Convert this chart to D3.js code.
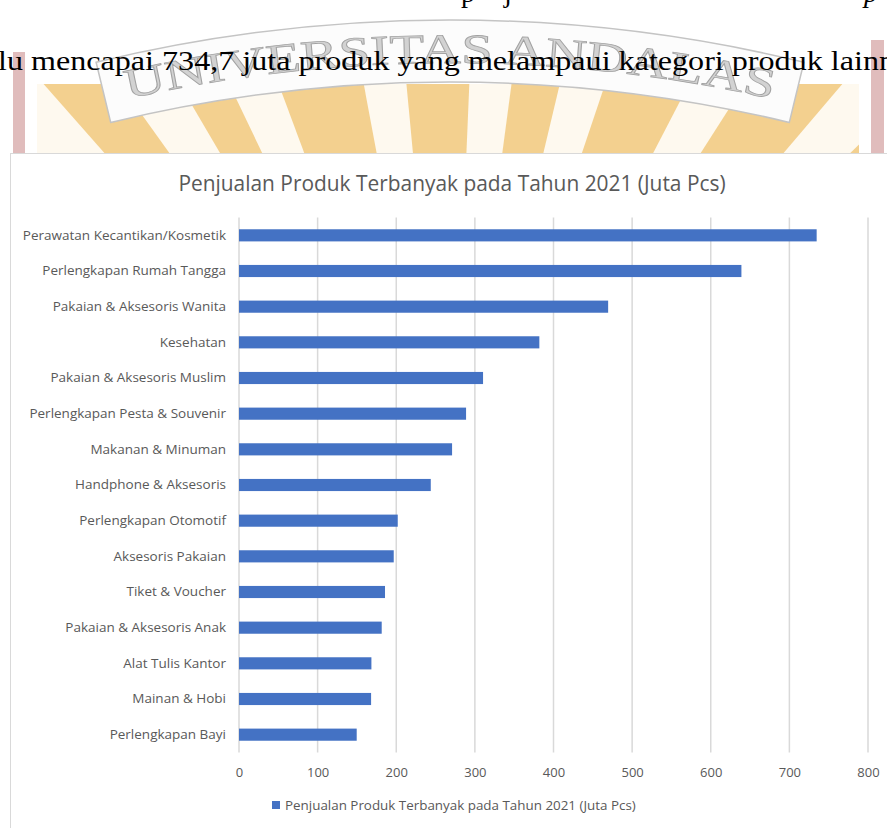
<!DOCTYPE html>
<html>
<head>
<meta charset="utf-8">
<script src="https://cdn.jsdelivr.net/npm/d3@7"></script>
<style>
  html, body { margin: 0; padding: 0; background: #fff; overflow: hidden; }
  svg { display: block; }
</style>
</head>
<body>
<div id="chart-area"></div>
<script>
// chart data
const categories = [
  'Perawatan Kecantikan/Kosmetik',
  'Perlengkapan Rumah Tangga',
  'Pakaian & Aksesoris Wanita',
  'Kesehatan',
  'Pakaian & Aksesoris Muslim',
  'Perlengkapan Pesta & Souvenir',
  'Makanan & Minuman',
  'Handphone & Aksesoris',
  'Perlengkapan Otomotif',
  'Aksesoris Pakaian',
  'Tiket & Voucher',
  'Pakaian & Aksesoris Anak',
  'Alat Tulis Kantor',
  'Mainan & Hobi',
  'Perlengkapan Bayi'
];
const values = [734.7, 639, 469.5, 382, 310.4, 288.8, 271, 243.9, 201.9, 196.8, 185.7, 181.5, 168.4, 168, 149.7];
const xTicks = [0, 100, 200, 300, 400, 500, 600, 700, 800];
const chartTitle = 'Penjualan Produk Terbanyak pada Tahun 2021 (Juta Pcs)';
const seriesName = 'Penjualan Produk Terbanyak pada Tahun 2021 (Juta Pcs)';
const bodyText = 'lu mencapai 734,7 juta produk yang melampaui kategori produk lainn';
const watermarkText = 'UNIVERSITAS ANDALAS';

const width = 887;
const height = 828;
const chartFont = '"Open Sans", Lato, sans-serif';

const svg = d3.select('#chart-area')
  .append('svg')
  .attr('width', width)
  .attr('height', height);

// --- document page behind the chart (watermark + text line) ---
const page = svg.append('g');

page.append('clipPath').attr('id', 'sunClip')
  .append('rect').attr('x', 37).attr('y', 84).attr('width', 822).attr('height', 74);

const sun = page.append('g').attr('clip-path', 'url(#sunClip)');
sun.append('rect')
  .attr('x', 37).attr('y', 84).attr('width', 822).attr('height', 74)
  .attr('fill', '#f3d08f');

// rays of the logo, converging at a point below the band
const cx = 450, cy = 545, rayLen = 700;
const rayAngles = [-56, -44, -33, -23, -8, 5, 16, 30, 43, 55];
sun.selectAll('path.ray')
  .data(rayAngles)
  .join('path')
  .attr('class', 'ray')
  .attr('d', (a) => {
    const a0 = (a - 2.6) * Math.PI / 180, a1 = (a + 2.6) * Math.PI / 180;
    return `M${cx},${cy}L${cx + rayLen * Math.sin(a0)},${cy - rayLen * Math.cos(a0)}` +
      `L${cx + rayLen * Math.sin(a1)},${cy - rayLen * Math.cos(a1)}Z`;
  })
  .attr('fill', '#fef9ef');

// white ribbon with the university name
const bcx = 450, bcy = 1525;
const rOut = 1505, rIn = 1443, rText = 1462;
const span = 13.6 * Math.PI / 180;
const ribbon = d3.arc()({ innerRadius: rIn, outerRadius: rOut, startAngle: -span, endAngle: span });
page.append('path')
  .attr('transform', `translate(${bcx},${bcy})`)
  .attr('d', ribbon)
  .attr('fill', '#fcfcfc')
  .attr('stroke', '#c4c4c4')
  .attr('stroke-width', 1.5);

const tA = 13.2 * Math.PI / 180;
page.append('path')
  .attr('id', 'textArc')
  .attr('fill', 'none')
  .attr('d', `M${bcx - rText * Math.sin(tA)},${bcy - rText * Math.cos(tA)}` +
    `A${rText},${rText} 0 0,1 ${bcx + rText * Math.sin(tA)},${bcy - rText * Math.cos(tA)}`);
page.append('text')
  .attr('font-family', '"Liberation Serif", serif')
  .attr('font-size', 42)
  .attr('fill', '#d2d2d2')
  .attr('stroke', '#a2a2a2')
  .attr('stroke-width', 0.8)
  .append('textPath')
  .attr('href', '#textArc')
  .attr('startOffset', '50%')
  .attr('text-anchor', 'middle')
  .attr('textLength', 650)
  .attr('lengthAdjust', 'spacingAndGlyphs')
  .text(watermarkText);

// pink frame of the watermark
page.append('rect').attr('x', 13).attr('y', 52).attr('width', 12).attr('height', 105).attr('fill', '#e0bcbc');
page.append('rect').attr('x', 871).attr('y', 40).attr('width', 13).attr('height', 117).attr('fill', '#e0bcbc');

// body text of the document
const serif = '"Liberation Serif", "Times New Roman", serif';
page.append('text')
  .attr('x', -2).attr('y', 70)
  .attr('font-family', serif).attr('font-size', 28).attr('fill', '#000')
  .attr('textLength', 897).attr('lengthAdjust', 'spacingAndGlyphs')
  .text(bodyText);
// tails of the previous line cut at the top edge
page.selectAll('text.tail')
  .data([{ x: 461, t: 'p', italic: false }, { x: 504, t: 'j', italic: false }, { x: 864, t: 'p', italic: true }])
  .join('text')
  .attr('class', 'tail')
  .attr('x', (d) => d.x).attr('y', 2)
  .attr('font-family', serif).attr('font-size', 28)
  .attr('font-style', (d) => (d.italic ? 'italic' : 'normal'))
  .text((d) => d.t);

// --- chart box ---
svg.append('rect')
  .attr('x', 10.5).attr('y', 153.5)
  .attr('width', 900).attr('height', 700)
  .attr('fill', '#fff')
  .attr('stroke', '#d9d9d9')
  .attr('stroke-width', 1);

const margin = { left: 239, right: 19, top: 217.5, bottom: 75.5 };
const x = d3.scaleLinear().domain([0, 800]).range([margin.left, width - margin.right]);
const y = d3.scaleBand().domain(categories).range([margin.top, height - margin.bottom]).paddingInner(0.66).paddingOuter(0.33);

svg.append('text')
  .attr('x', 452).attr('y', 191)
  .attr('text-anchor', 'middle')
  .attr('font-family', chartFont).attr('font-size', 20.9)
  .attr('fill', '#595959')
  .text(chartTitle);

// gridlines
svg.append('g')
  .selectAll('line')
  .data(xTicks)
  .join('line')
  .attr('x1', (d) => x(d)).attr('x2', (d) => x(d))
  .attr('y1', margin.top).attr('y2', height - margin.bottom)
  .attr('stroke', '#d9d9d9')
  .attr('stroke-width', 1.5);

// bars
svg.append('g')
  .selectAll('rect')
  .data(values)
  .join('rect')
  .attr('x', x(0))
  .attr('y', (d, i) => y(categories[i]))
  .attr('width', (d) => x(d) - x(0))
  .attr('height', y.bandwidth())
  .attr('fill', '#4472c4');

// category axis
const yAxis = svg.append('g')
  .attr('transform', `translate(${x(0) - 13},0)`)
  .call(d3.axisLeft(y).tickSize(0).tickPadding(0));
yAxis.select('.domain').remove();
yAxis.selectAll('text')
  .attr('font-family', chartFont).attr('font-size', 13.5)
  .attr('fill', '#595959');

// value axis
const xAxis = svg.append('g')
  .attr('transform', `translate(0,${height - margin.bottom})`)
  .call(d3.axisBottom(x).tickValues(xTicks).tickSize(0).tickPadding(15));
xAxis.select('.domain').remove();
xAxis.selectAll('text')
  .attr('font-family', chartFont).attr('font-size', 13)
  .attr('fill', '#595959');

// legend
const legend = svg.append('g').attr('transform', 'translate(272,801)');
legend.append('rect').attr('width', 8).attr('height', 8).attr('fill', '#4472c4');
legend.append('text')
  .attr('x', 13).attr('y', 8.5)
  .attr('font-family', chartFont).attr('font-size', 13.4)
  .attr('fill', '#595959')
  .text(seriesName);
</script>
</body>
</html>
